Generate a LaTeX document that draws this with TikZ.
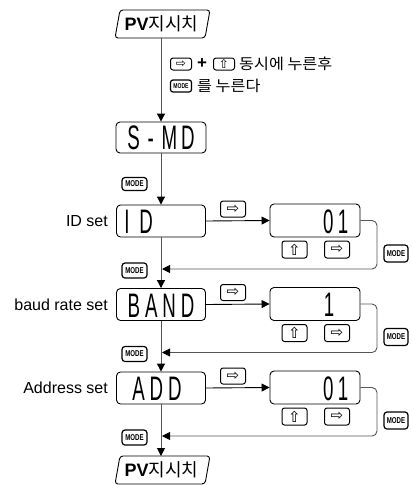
\documentclass[tikz,border=0pt]{standalone}
\usepackage{fontspec}
\setmainfont{Liberation Sans}
\newfontfamily\krfont{Noto Sans CJK KR}
\newfontfamily\djfont{DejaVu Sans}
\usetikzlibrary{arrows.meta,calc}
\definecolor{linegray}{RGB}{85,85,85}
\newcommand\dtxt[1]{\scalebox{0.55}[1]{\fontsize{34}{34}\selectfont #1}}
\newcommand\mtxt{\scalebox{0.72}[1]{MODE}}
\begin{document}
\begin{tikzpicture}[x=1pt,y=-1pt,
  vline/.style={draw=linegray, line width=1pt},
  hline/.style={draw=black, line width=0.9pt},
  rline/.style={draw=linegray, line width=0.9pt, rounded corners=5pt},
  tip/.style={-{Triangle[length=8pt,width=8pt,color=black]}},
  disp/.style={draw=black, line width=0.9pt, rounded corners=4pt, minimum width=89pt, minimum height=32pt, inner sep=0pt},
  pvtext/.style={inner sep=0pt, font=\fontsize{18}{18}\selectfont},
  pvframe/.style={draw=black, line width=0.9pt, rounded corners=3pt},
  key/.style={draw=black, line width=1pt, rounded corners=2.5pt, minimum width=25pt, minimum height=17pt, inner sep=0pt, font=\djfont\fontsize{15}{15}\selectfont},
  skey/.style={draw=black, line width=1pt, rounded corners=2.5pt, minimum width=21pt, minimum height=12pt, inner sep=0pt, font=\djfont\fontsize{12}{12}\selectfont},
  modekey/.style={draw=black, line width=1.2pt, rounded corners=3pt, minimum width=25pt, minimum height=15pt, inner sep=0pt, font=\bfseries\fontsize{8.5}{8.5}\selectfont},
  smodekey/.style={draw=black, line width=1.2pt, rounded corners=2.5pt, minimum width=21pt, minimum height=12pt, inner sep=0pt, font=\bfseries\fontsize{7}{7}\selectfont},
  lbl/.style={anchor=east, inner sep=0pt, font=\fontsize{16}{16}\selectfont},
  krtext/.style={anchor=west, inner sep=0pt, font=\krfont\fontsize{15}{15}\selectfont},
  dtext/.style={inner sep=0pt}
]
\useasboundingbox (0,0) rectangle (412,485);

% top PV
\node[pvtext] (pv1) at (161.5,24) {\textbf{PV}{\krfont 지시치}};
\draw[pvframe] ($(pv1.center)+(-46.5,14)$) -- ($(pv1.center)+(-41.5,-14)$) -- ($(pv1.center)+(48.5,-14)$) -- ($(pv1.center)+(43.5,14)$) -- cycle;
\coordinate (pv1b) at (161,38);

% instructions
\node[skey] (ik1) at (181,64) {⇨};
\node[inner sep=0pt, font=\bfseries\fontsize{17}{17}\selectfont] (iplus) at (202,63.5) {+};
\node[skey] (ik2) at (224,64) {⇧};
\node[krtext] (it1) at (239,64) {\scalebox{1.08}[1]{동시에 누른후}};
\node[smodekey] (imode) at (181,86) {\mtxt};
\node[krtext] (it2) at (197,86) {\scalebox{1.08}[1]{를 누른다}};

% S-MD
\node[disp, minimum width=90pt, minimum height=31pt] (smd) at (161,137.5) {};
\node[dtext] (smdt) at (161,138) {\dtxt{S\hspace{14pt}-\hspace{14pt}M\hspace{7pt}D}};
\node[modekey, minimum height=13pt] (m0) at (134.5,184) {\mtxt};
\draw[vline, tip] (pv1b) -- (smd.north);

% ID row
\node[disp] (id) at (161,221) {};
\node[dtext, anchor=west] (idt) at ($(id.west)+(8,1)$) {\dtxt{I\hspace{18pt}D}};
\node[lbl] (idl) at (108,221) {ID set};
\node[disp, minimum width=90pt, minimum height=33pt] (v1) at (315,220.5) {};
\node[dtext, anchor=east] (v1t) at ($(v1.east)+(-12,1)$) {\dtxt{0\hspace{8pt}1}};
\node[key, minimum height=16pt] (a1) at (233,209) {⇨};
\node[key] (u1) at (294.5,249.5) {⇧};
\node[key] (r1) at (337,249.5) {⇨};
\node[modekey, minimum width=24pt, minimum height=17pt] (mr1) at (396,253.5) {\mtxt};
\node[modekey] (ml1) at (134.5,270.5) {\mtxt};
\coordinate (c1a) at (377,220.5);
\coordinate (c1b) at (377,269);
\coordinate (j1) at (162,269);
\draw[vline, tip] (smd.south) -- (id.north);
\draw[hline, tip] (id.east) -- (v1.west);
\draw[rline, tip] (v1.east) -- (c1a) -- (c1b) -- (j1);

% BAND row
\node[disp] (band) at (161,304.5) {};
\node[dtext] (bandt) at ($(band.center)+(0,1)$) {\dtxt{B\hspace{9pt}A\hspace{9pt}N\hspace{9pt}D}};
\node[lbl] (bandl) at (108,304.5) {baud rate set};
\node[disp, minimum width=90pt, minimum height=33pt] (v2) at (315,304) {};
\node[dtext, anchor=east] (v2t) at ($(v2.east)+(-26,1)$) {\dtxt{1}};
\node[key, minimum height=16pt] (a2) at (233,292.5) {⇨};
\node[key] (u2) at (294.5,333) {⇧};
\node[key] (r2) at (337,333) {⇨};
\node[modekey, minimum width=24pt, minimum height=17pt] (mr2) at (396,337) {\mtxt};
\node[modekey] (ml2) at (134.5,354) {\mtxt};
\coordinate (c2a) at (377,304);
\coordinate (c2b) at (377,352.5);
\coordinate (j2) at (162,352.5);
\draw[vline, tip] (id.south) -- (band.north);
\draw[hline, tip] (band.east) -- (v2.west);
\draw[rline, tip] (v2.east) -- (c2a) -- (c2b) -- (j2);

% ADD row
\node[disp] (add) at (161,388) {};
\node[dtext] (addt) at ($(add.center)+(-4,1)$) {\dtxt{A\hspace{9pt}D\hspace{9pt}D}};
\node[lbl] (addl) at (108,388) {Address set};
\node[disp, minimum width=90pt, minimum height=33pt] (v3) at (315,387.5) {};
\node[dtext, anchor=east] (v3t) at ($(v3.east)+(-12,1)$) {\dtxt{0\hspace{8pt}1}};
\node[key, minimum height=16pt] (a3) at (233,376) {⇨};
\node[key] (u3) at (294.5,416.5) {⇧};
\node[key] (r3) at (337,416.5) {⇨};
\node[modekey, minimum width=24pt, minimum height=17pt] (mr3) at (396,420.5) {\mtxt};
\node[modekey] (ml3) at (134.5,437.5) {\mtxt};
\coordinate (c3a) at (377,387.5);
\coordinate (c3b) at (377,436);
\coordinate (j3) at (162,436);
\draw[vline, tip] (band.south) -- (add.north);
\draw[hline, tip] (add.east) -- (v3.west);
\draw[rline, tip] (v3.east) -- (c3a) -- (c3b) -- (j3);

% bottom PV
\node[pvtext] (pv2) at (161.5,470) {\textbf{PV}{\krfont 지시치}};
\draw[pvframe] ($(pv2.center)+(-46.5,14)$) -- ($(pv2.center)+(-41.5,-14)$) -- ($(pv2.center)+(48.5,-14)$) -- ($(pv2.center)+(43.5,14)$) -- cycle;
\coordinate (pv2t) at (161,456);
\draw[vline, tip] (add.south) -- (pv2t);
\end{tikzpicture}
\end{document}
